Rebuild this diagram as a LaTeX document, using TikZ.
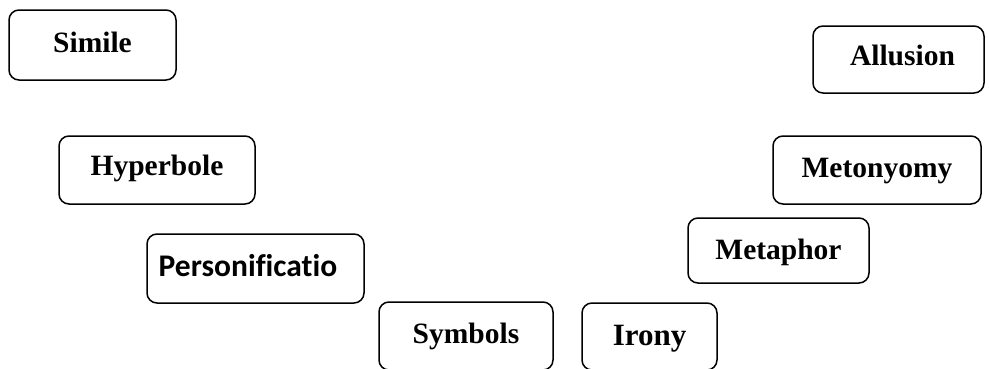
\documentclass[tikz,border=0pt]{standalone}
\usepackage{fontspec}
\setmainfont{Liberation Serif}
\newfontfamily\calfont[Ligatures=NoCommon]{Carlito}
\begin{document}
\begin{tikzpicture}[x=1pt,y=-1pt,
  termbox/.style={draw=black, line width=1.5pt, rounded corners=10pt, fill=white, inner sep=0pt,
    text height=20pt, text depth=6pt,
    font=\fontsize{29.5}{29.5}\selectfont\bfseries}]
\useasboundingbox[fill=white] (0,0) rectangle (989,368);
\node[termbox, minimum width=167pt, minimum height=70pt] (simile) at (92.5,45) {Simile};
\node[termbox, minimum width=171pt, minimum height=67pt, text depth=9pt] (allusion) at (898.5,59.5) {\hspace{8pt}Allusion};
\node[termbox, minimum width=196pt, minimum height=68pt, text depth=10pt] (hyperbole) at (157,170) {Hyperbole};
\node[termbox, minimum width=208pt, minimum height=68pt] (metonyomy) at (877,170) {Metonyomy};
\node[termbox, minimum width=217pt, minimum height=69pt, text depth=5pt, font=\calfont\fontsize{31.5}{31.5}\selectfont\bfseries] (personif) at (255.5,268.5) {Personificatio\kern15pt};
\node[termbox, minimum width=181pt, minimum height=65pt, text depth=3pt] (metaphor) at (778.5,250.5) {Metaphor};
\node[termbox, minimum width=174pt, minimum height=68pt] (symbols) at (466,336) {Symbols};
\node[termbox, minimum width=135pt, minimum height=67pt, text depth=3pt, font=\fontsize{31}{31}\selectfont\bfseries] (irony) at (649.5,336.5) {Irony};
\end{tikzpicture}
\end{document}
